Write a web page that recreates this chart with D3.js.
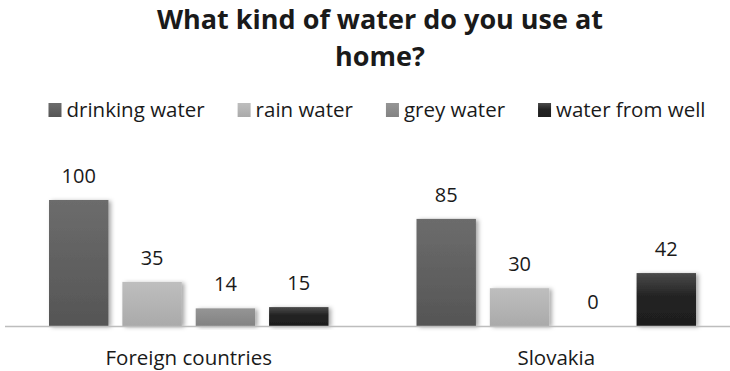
<!DOCTYPE html>
<html>
<head>
<meta charset="utf-8">
<script src="https://cdn.jsdelivr.net/npm/d3@7"></script>
<style>
  html, body { margin: 0; padding: 0; background: #fff; }
  svg { display: block; font-family: "Open Sans", "DejaVu Sans", sans-serif; }
</style>
</head>
<body>
<svg id="chart" width="730" height="371"></svg>
<script>
// Survey answers: count of respondents per water source
const categories = ["Foreign countries", "Slovakia"];
const seriesNames = ["drinking water", "rain water", "grey water", "water from well"];
const drinkingWater = [100, 85];
const rainWater = [35, 30];
const greyWater = [14, 0];
const wellWater = [15, 42];
const titleLines = ["What kind of water do you use at", "home?"];

const seriesValues = [drinkingWater, rainWater, greyWater, wellWater];
const fills = [
  [["0%", "#6c6c6c"], ["100%", "#555555"]],
  [["0%", "#bebebe"], ["100%", "#aaaaaa"]],
  [["0%", "#959595"], ["100%", "#828282"]],
  [["0%", "#4a4a4a"], ["45%", "#222222"], ["100%", "#1e1e1e"]]
];

const svg = d3.select("#chart");
const W = 730;
const baseY = 326;
const textColor = "#1a1a1a";

// Gradients and a soft shadow for the bars
const defs = svg.append("defs");
fills.forEach((stops, i) => {
  const g = defs.append("linearGradient")
    .attr("id", "grad" + i).attr("x1", 0).attr("y1", 0).attr("x2", 0).attr("y2", 1);
  stops.forEach(s => g.append("stop").attr("offset", s[0]).attr("stop-color", s[1]));
});
const f = defs.append("filter").attr("id", "shadow")
  .attr("x", "-20%").attr("y", "-20%").attr("width", "150%").attr("height", "140%");
f.append("feDropShadow").attr("dx", 2.5).attr("dy", 1).attr("stdDeviation", 2)
  .attr("flood-color", "#000").attr("flood-opacity", 0.35);

// Scales
const x0 = d3.scaleBand().domain(categories).range([5, 740]);
const x1 = d3.scaleBand().domain(seriesNames)
  .range([44, x0.bandwidth() - 44]).paddingInner(0.19);
const y = d3.scaleLinear().domain([0, 100]).range([baseY, 200]);

// Title
svg.append("g").selectAll("text").data(titleLines).join("text")
  .attr("x", 380).attr("y", (d, i) => 29 + i * 37)
  .attr("text-anchor", "middle")
  .attr("font-size", 27).attr("font-weight", "bold").attr("fill", textColor)
  .text(d => d);

// Legend: items laid out from their text widths, centred as a row
const legend = svg.append("g").attr("transform", "translate(0,103)");
const items = legend.selectAll("g").data(seriesNames).join("g");
items.append("rect").attr("width", 13).attr("height", 14)
  .attr("fill", (d, i) => `url(#grad${i})`);
items.append("text").attr("x", 18).attr("y", 14)
  .attr("font-size", 20.5).attr("fill", textColor).text(d => d);
const widths = [];
items.each(function () { widths.push(18 + d3.select(this).select("text").node().getComputedTextLength()); });
const gap = 33;
const total = d3.sum(widths) + gap * (widths.length - 1);
let cx = 377 - total / 2;
items.attr("transform", (d, i) => {
  const t = `translate(${cx},0)`;
  cx += widths[i] + gap;
  return t;
});

// Bars
const groups = svg.append("g").selectAll("g").data(categories).join("g")
  .attr("transform", d => `translate(${x0(d)},0)`);
groups.each(function (cat, ci) {
  const g = d3.select(this);
  const rows = seriesNames.map((s, si) => ({ s, si, v: seriesValues[si][ci] }));
  g.selectAll("rect").data(rows.filter(r => r.v > 0)).join("rect")
    .attr("x", r => x1(r.s)).attr("width", x1.bandwidth())
    .attr("y", r => y(r.v)).attr("height", r => baseY - y(r.v))
    .attr("fill", r => `url(#grad${r.si})`)
    .attr("filter", "url(#shadow)");
  g.selectAll("text").data(rows).join("text")
    .attr("x", r => x1(r.s) + x1.bandwidth() / 2)
    .attr("y", r => y(r.v) - 17)
    .attr("text-anchor", "middle")
    .attr("font-size", 20).attr("fill", textColor)
    .text(r => r.v);
});

// Category axis
svg.append("line").attr("x1", 5).attr("x2", W).attr("y1", baseY + 0.5).attr("y2", baseY + 0.5)
  .attr("stroke", "#bdbdbd").attr("stroke-width", 1.5);
svg.append("g").selectAll("text").data(categories).join("text")
  .attr("x", d => x0(d) + x0.bandwidth() / 2).attr("y", 365)
  .attr("text-anchor", "middle")
  .attr("font-size", 20.5).attr("fill", textColor)
  .text(d => d);
</script>
</body>
</html>
